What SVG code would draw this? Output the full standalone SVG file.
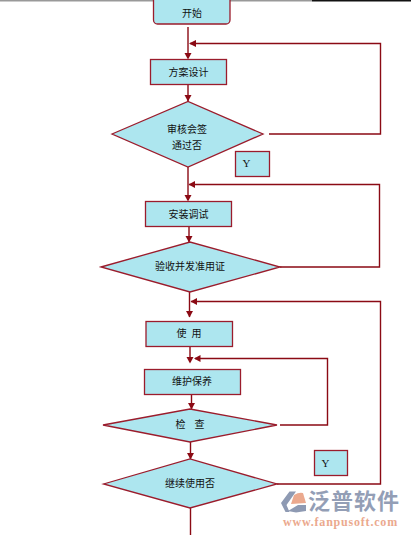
<svg xmlns="http://www.w3.org/2000/svg" width="411" height="535" viewBox="0 0 411 535">
<style>
.n{fill:#ade6ef;stroke:#9b1c2c;stroke-width:1.3}
.c{fill:none;stroke:#8b0a14;stroke-width:1.4}
.a{fill:#8b0a14}
text{font-family:"Noto Sans CJK SC","Liberation Sans",sans-serif;font-size:10px;fill:#111;text-anchor:middle}
.y{font-family:"Liberation Serif",serif;font-size:11px}
.l{font-size:22px;font-weight:bold;fill:#939eb6;letter-spacing:1px;text-anchor:start}
.w{font-family:"Liberation Serif",serif;font-size:12px;font-weight:bold;fill:#eba98e;letter-spacing:.8px;text-anchor:start}
.g{fill:#8e9ab3}
.s{fill:#eba98e}
</style>
<rect width="411" height="535" fill="#fff"/>
<rect width="312" height="1.5" fill="#999"/>
<rect x="312" width="99" height="1.5" fill="#111"/>
<g id="connectors">
<path class="c" d="M188 27V57"/><path class="a" d="M184.500 53H191.500L188 59.500Z"/>
<path class="c" d="M269 134H380.500V43.500H190"/><path class="a" d="M196 40V47L189 43.500Z"/>
<path class="c" d="M188 84V101"/><path class="a" d="M184.500 95H191.500L188 101.500Z"/>
<path class="c" d="M188 167V200"/><path class="a" d="M184.500 195H191.500L188 201.500Z"/>
<path class="c" d="M280 267H379.500V184.500H189"/><path class="a" d="M195 181V188L188.500 184.500Z"/>
<path class="c" d="M189 226.500V242"/><path class="a" d="M185.500 236H192.500L189 242.500Z"/>
<path class="c" d="M189.500 292V317"/><path class="a" d="M186 311H193L189.500 317.500Z"/>
<path class="c" d="M277 484H380.500V301.500H191"/><path class="a" d="M197 298V305L190.500 301.500Z"/>
<path class="c" d="M190 346V362"/><path class="a" d="M186.500 357H193.500L190 363.500Z"/>
<path class="c" d="M280 425H327.500V358.500H195"/><path class="a" d="M200.500 355V362L194 358.500Z"/>
<path class="c" d="M191.500 394.500V409"/><path class="a" d="M188 403H195L191.500 409.500Z"/>
<path class="c" d="M190.500 442V459"/><path class="a" d="M187 453H194L190.500 459.500Z"/>
<path class="c" d="M190.500 508V535"/>
</g>
<g id="start"><rect class="n" x="153.500" y="-8" width="76.500" height="32" rx="4"/><text x="192" y="17">开始</text></g>
<g id="design"><rect class="n" x="150.500" y="59.500" width="76" height="25"/><text x="188.500" y="76">方案设计</text></g>
<g id="review"><path class="n" d="M112 134L188 101.500L263 134L188 167Z"/><text x="187" y="133">审核会签</text><text x="187" y="149">通过否</text></g>
<g id="y1"><rect class="n" x="235.500" y="151.500" width="34" height="25"/><text class="y" x="246.500" y="167">Y</text></g>
<g id="install"><rect class="n" x="145.500" y="201.500" width="86" height="25"/><text x="188.500" y="218">安装调试</text></g>
<g id="accept"><path class="n" d="M101 267L190 242L280 267L190 292Z"/><text x="190" y="270">验收并发准用证</text></g>
<g id="use"><rect class="n" x="146" y="321.500" width="86.500" height="25"/><text x="189" y="337" word-spacing="3">使 用</text></g>
<g id="maintain"><rect class="n" x="144.500" y="369.500" width="96" height="25"/><text x="192" y="385">维护保养</text></g>
<g id="check"><path class="n" d="M103 425L190 409L277 425L190 442Z"/><text x="190" y="428" word-spacing="7">检 查</text></g>
<g id="continue"><path class="n" d="M103.500 484L190 459L277 484L190 508Z"/><text x="190" y="487">继续使用否</text></g>
<g id="y2"><rect class="n" x="314.500" y="450.500" width="33" height="25"/><text class="y" x="325.500" y="467">Y</text></g>
<g id="logo">
<path class="g" d="M289.500 491.500H296L286.500 505L289.500 512H285.500L281 503Z"/>
<path class="s" d="M291 504L294 495Q299 492 303 493L306 503Z"/>
<path class="g" d="M288 511L298 505H306V511L296 512.500Z"/>
<text class="l" x="308" y="509">泛普软件</text>
<text class="w" x="283" y="525.500">www.fanpusoft.com</text>
</g>
</svg>
